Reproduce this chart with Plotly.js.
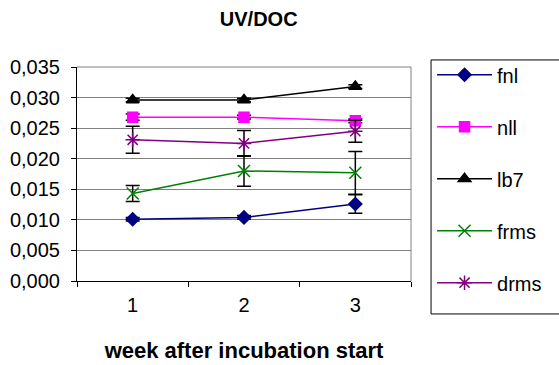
<!DOCTYPE html>
<html><head><meta charset="utf-8">
<script src="https://cdn.plot.ly/plotly-3.0.1.min.js"></script>
<style>body{margin:0;background:#fff}#c{width:559px;height:365px}</style>
</head><body><div id="c"></div>
<script>
const weeks = ["1", "2", "3"];
const fnl = [0.0101, 0.0104, 0.0126];
const fnlErr = [0.0003, 0.0003, 0.0015];
const nll = [0.0268, 0.0268, 0.0262];
const nllErr = [0.0005, 0.0003, 0.0003];
const lb7 = [0.0296, 0.0296, 0.0318];
const lb7Err = [0.0003, 0.0003, 0.0003];
const frms = [0.0143, 0.0180, 0.0177];
const frmsErr = [0.0013, 0.0025, 0.0035];
const drms = [0.0231, 0.0225, 0.0245];
const drmsErr = [0.0022, 0.0021, 0.0018];
const names = ["fnl", "nll", "lb7", "frms", "drms"];
const yTicks = [0, 0.005, 0.01, 0.015, 0.02, 0.025, 0.03, 0.035];

function tr(name, y, err, color, symbol, size) {
  return {
    x: weeks, y: y, name: name, type: "scatter", mode: "lines+markers",
    legendgroup: name,
    line: {color: color, width: 1.5},
    marker: {color: color, symbol: symbol, size: size, line: {color: color, width: 1.5}},
    error_y: {type: "data", array: err, visible: true, color: "#000", thickness: 1.5, width: 7}
  };
}
const data = [
  tr(names[0], fnl, fnlErr, "#000080", "diamond", 10),
  tr(names[1], nll, nllErr, "#FF00FF", "square", 10),
  tr(names[2], lb7, lb7Err, "#000000", "triangle-up", 11),
  tr(names[3], frms, frmsErr, "#008000", "x-thin", 12),
  tr(names[4], drms, drmsErr, "#800080", "asterisk", 12)
];
const layout = {
  width: 559, height: 365,
  margin: {l: 77, r: 131, t: 67, b: 84},
  paper_bgcolor: "#fff", plot_bgcolor: "#fff",
  separators: ",.",
  font: {family: "Liberation Sans, Arial, sans-serif", size: 20, color: "#000"},
  title: {text: "<b>UV/DOC</b>", font: {size: 20}, xref: "paper", x: 0.544, xanchor: "center",
          yref: "container", y: 0.948, yanchor: "middle"},
  showlegend: true,
  legend: {x: 1.063, xanchor: "left", y: 1.055, yanchor: "top", traceorder: "grouped", tracegroupgap: 23,
           itemwidth: 55, maxheight: 1000,
           font: {size: 20}, bgcolor: "rgba(0,0,0,0)", borderwidth: 0},
  xaxis: {
    type: "category", range: [-0.5, 2.5], showline: true, linecolor: "#000", linewidth: 1,
    ticks: "outside", ticklen: 5, tickcolor: "#000", tickson: "boundaries", showgrid: false,
    tickfont: {size: 20}, zeroline: false, ticklabelstandoff: 6,
    title: {text: "<b>week after incubation start</b>", font: {size: 22}, standoff: 27}
  },
  yaxis: {
    range: [0, 0.035], tickvals: yTicks, tickformat: ".3f", showline: true, linecolor: "#000", linewidth: 1,
    ticks: "outside", ticklen: 5, tickcolor: "#000", showgrid: true, gridcolor: "#808080", gridwidth: 1,
    zeroline: false, tickfont: {size: 20}, ticklabelstandoff: 7
  },
  shapes: [
    {type: "line", xref: "paper", yref: "paper", x0: 0, x1: 1, y0: 1, y1: 1, line: {color: "#808080", width: 1}},
    {type: "line", xref: "paper", yref: "paper", x0: 1, x1: 1, y0: 0, y1: 1, line: {color: "#808080", width: 1}},
    {type: "rect", xref: "paper", yref: "paper", x0: 1.06, x1: 1.5, y0: -0.154, y1: 1.033, line: {color: "#000", width: 1}}
  ]
};
Plotly.newPlot("c", data, layout, {displayModeBar: false, staticPlot: true});
</script></body></html>
